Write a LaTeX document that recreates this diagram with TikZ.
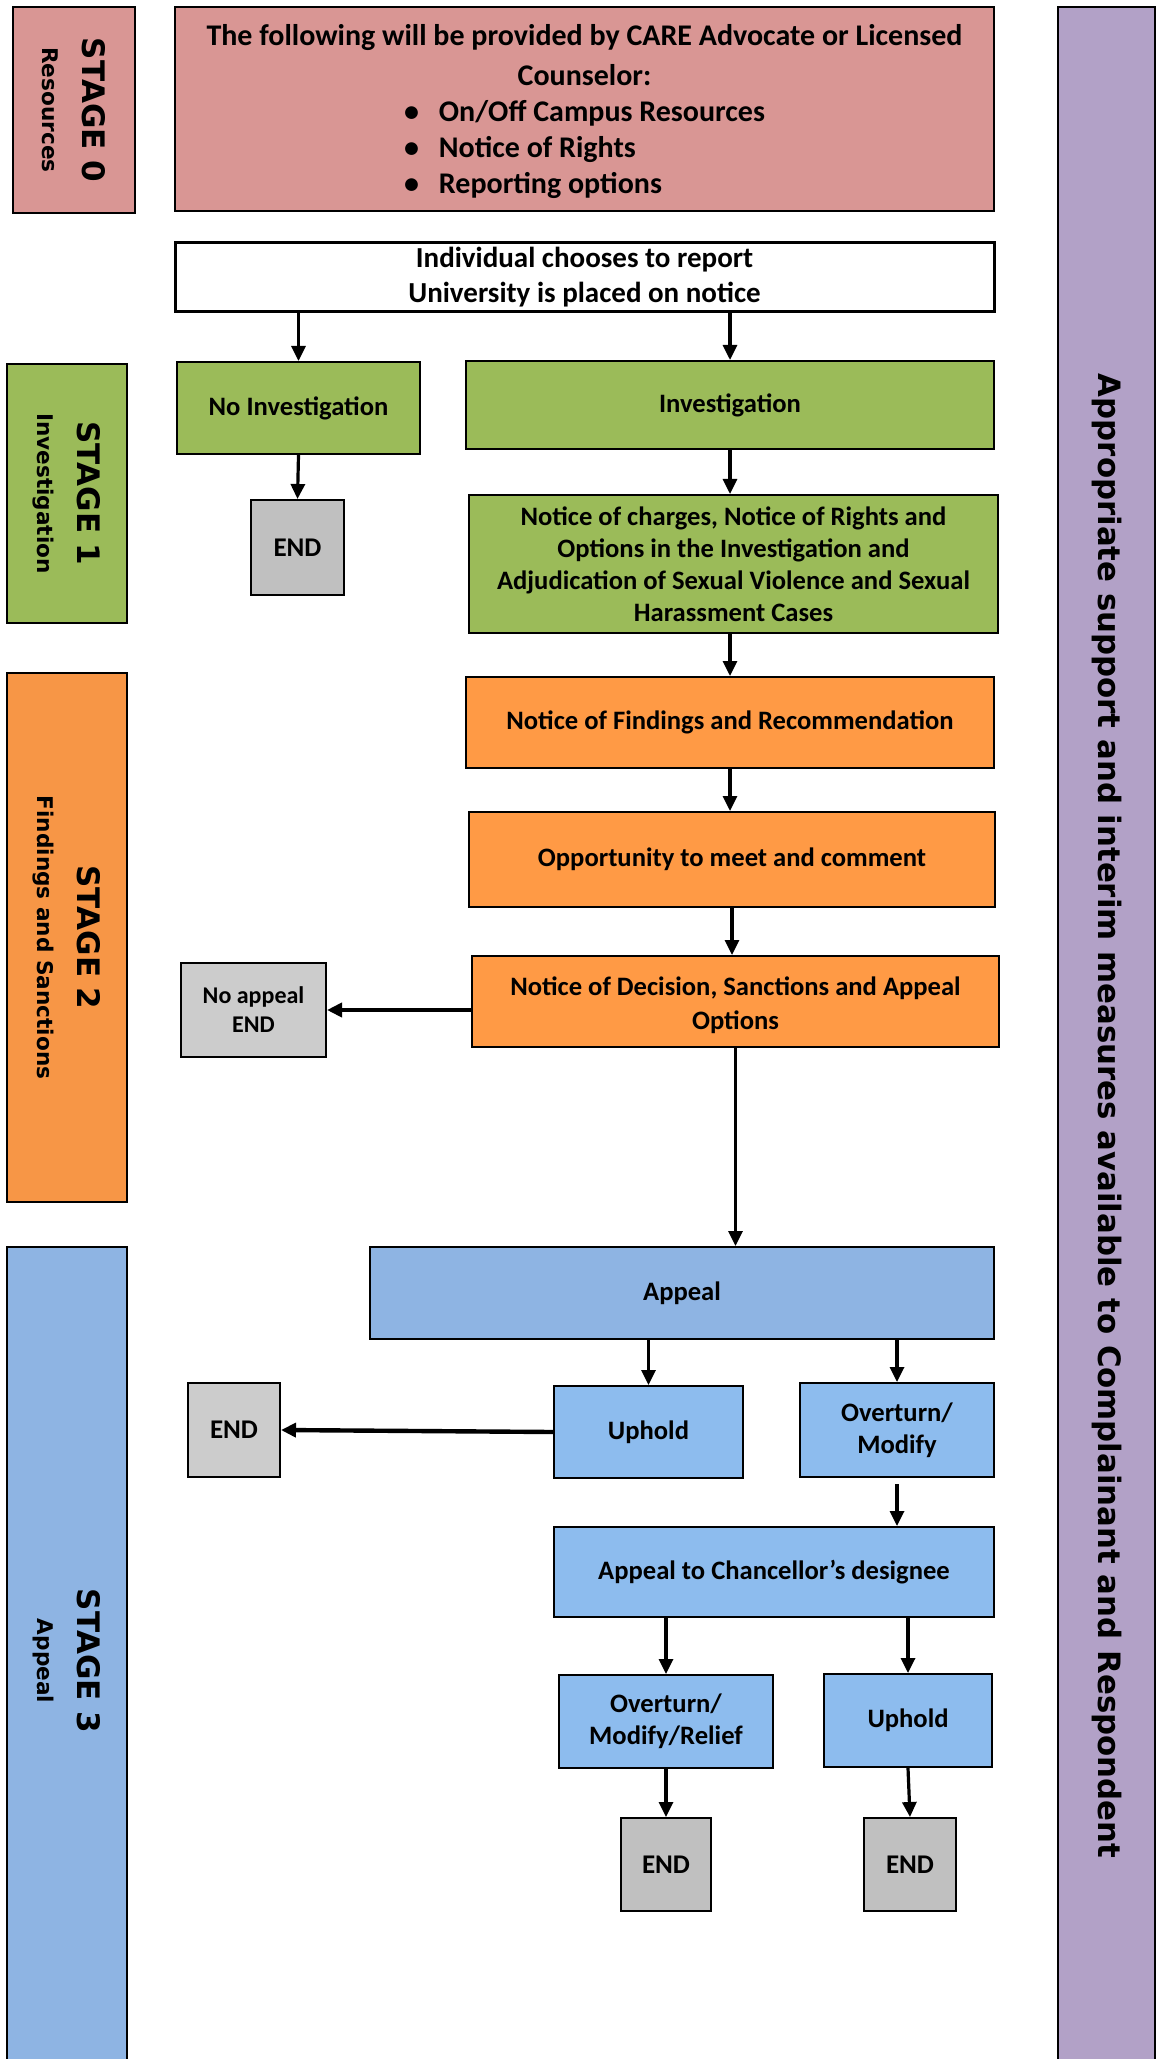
\documentclass[tikz,border=0pt]{standalone}
\usepackage{fontspec}
\setmainfont{Carlito}
\newfontfamily\stagefont{DejaVu Sans}
\usepackage{tikz}
\usetikzlibrary{arrows.meta}

\definecolor{respink}{HTML}{D99694}
\definecolor{invgreen}{HTML}{9BBB59}
\definecolor{stageorange}{HTML}{F79646}
\definecolor{boxorange}{HTML}{FF9A45}
\definecolor{stageblue}{HTML}{8EB4E3}
\definecolor{boxblue}{HTML}{8DBCEE}
\definecolor{endgray}{HTML}{CCCCCC}
\definecolor{darkendgray}{HTML}{C0C0C0}
\definecolor{supportpurple}{HTML}{B2A1C7}

\begin{document}
\begin{tikzpicture}[
			x=0.5pt, y=-0.5pt,
			>={Triangle[length=7.5pt,width=7pt]},
			flowbox/.style={rectangle, draw=black, line width=1pt, align=center, inner sep=2pt,
				font=\bfseries\fontsize{13.3}{16}\selectfont},
			endbox/.style={flowbox, fill=endgray, font=\bfseries\fontsize{13.5}{16}\selectfont},
			stagebox/.style={rectangle, draw=black, line width=1pt, align=center, rotate=-90,
				font=\stagefont\bfseries\fontsize{10.8}{20}\selectfont},
			link/.style={->, line width=1.6pt},
		]

			\useasboundingbox (0,0) rectangle (1159,2059);

			%Stage boxes
			\node[stagebox, fill=respink, minimum width=103pt, minimum height=61pt]		(stage0)	at (74,110)		{{\fontsize{15.5}{18}\selectfont STAGE 0}\\Resources};
			\node[stagebox, fill=invgreen, minimum width=129.5pt, minimum height=60pt]	(stage1)	at (67,493.5)	{{\fontsize{15.5}{18}\selectfont STAGE 1}\\Investigation};
			\node[stagebox, fill=stageorange, minimum width=264.5pt, minimum height=60pt]	(stage2)	at (67,937.5)	{{\fontsize{15.5}{18}\selectfont STAGE 2}\\Findings and Sanctions};
			\node[stagebox, fill=stageblue, minimum width=414pt, minimum height=60pt]	(stage3)	at (67,1661)	{{\fontsize{15.5}{18}\selectfont STAGE 3}\\Appeal};
			\node[stagebox, fill=supportpurple, minimum width=1109pt, minimum height=48.5pt, font=\stagefont\bfseries\fontsize{15.4}{18}\selectfont]	(support)	at (1106.5,1116)	{Appropriate support and interim measures available to Complainant and Respondent};

			%Nodes
			\node[flowbox, fill=respink, minimum width=409.5pt, minimum height=102pt, font=\bfseries\fontsize{15}{18}\selectfont]	(resources)	at (584.5,109)
				{\rule{0pt}{16pt}The following will be provided by CARE Advocate or Licensed\\[2pt]Counselor:\\[4.5pt]
				\begin{tabular}{@{}l@{\hspace{10pt}}l@{}}\textbullet & On/Off Campus Resources\\ \textbullet & Notice of Rights\\ \textbullet & Reporting options\end{tabular}};
			\node[flowbox, fill=white, minimum width=409.5pt, minimum height=34.5pt, inner ysep=0pt, line width=1.5pt, font=\bfseries\fontsize{14.5}{17.5}\selectfont]	(report)	at (584.5,277.5)	{Individual chooses to report\\University is placed on notice};
			\node[flowbox, fill=invgreen, minimum width=121.5pt, minimum height=46pt]	(noinv)		at (298.5,408)		{No Investigation};
			\node[flowbox, fill=invgreen, minimum width=264pt, minimum height=44pt]		(inv)		at (730,405)		{Investigation};
			\node[endbox, fill=darkendgray, minimum width=46.5pt, minimum height=47.5pt]	(end1)	at (297.5,547.5)	{END};
			\node[flowbox, fill=invgreen, minimum width=264.5pt, minimum height=69pt]	(charges)	at (733.5,564)
				{Notice of charges, Notice of Rights and\\Options in the Investigation and\\Adjudication of Sexual Violence and Sexual\\Harassment Cases};
			\node[flowbox, fill=boxorange, minimum width=264pt, minimum height=45.5pt]	(findings)	at (730,722.5)		{Notice of Findings and Recommendation};
			\node[flowbox, fill=boxorange, minimum width=263pt, minimum height=47.5pt]	(meet)		at (732,859.5)		{Opportunity to meet and comment};
			\node[flowbox, fill=boxorange, minimum width=263.5pt, minimum height=45.5pt, font=\bfseries\fontsize{13.3}{17}\selectfont]	(decision)	at (735.5,1001.5)	{\rule{0pt}{13pt}Notice of Decision, Sanctions and Appeal\\Options};
			\node[endbox, minimum width=72.5pt, minimum height=47pt, font=\bfseries\fontsize{12}{14.5}\selectfont]	(noappeal)	at (253.5,1010)		{No appeal\\END};
			\node[flowbox, fill=stageblue, minimum width=312pt, minimum height=46pt]	(appeal)	at (682,1293)		{Appeal};
			\node[flowbox, fill=boxblue, minimum width=94.5pt, minimum height=46pt]		(uphold)	at (648.5,1432)		{Uphold};
			\node[flowbox, fill=boxblue, minimum width=97pt, minimum height=47pt]		(overturn)	at (897,1430)		{Overturn/\\Modify};
			\node[endbox, minimum width=46pt, minimum height=47pt]	(end2)		at (234,1430)		{END};
			\node[flowbox, fill=boxblue, minimum width=220pt, minimum height=45pt]		(designee)	at (774,1572)		{Appeal to Chancellor’s designee};
			\node[flowbox, fill=boxblue, minimum width=107pt, minimum height=46.5pt]	(relief)	at (666,1721.5)		{Overturn/\\Modify/Relief};
			\node[flowbox, fill=boxblue, minimum width=84pt, minimum height=46.5pt]		(upholdfinal)	at (908,1720.5)	{Uphold};
			\node[endbox, fill=darkendgray, minimum width=45pt, minimum height=46.5pt]	(end3)		at (666,1864.5)		{END};
			\node[endbox, fill=darkendgray, minimum width=46pt, minimum height=46.5pt]	(end4)		at (910,1864.5)		{END};

			%Lines
			\draw[link]	(noinv.north |- report.south) -- (noinv.north);
			\draw[link]	(inv.north |- report.south) -- (inv.north);
			\draw[link]	(noinv.south) -- (end1.north);
			\draw[link]	(inv.south) -- (inv.south |- charges.north);
			\draw[link]	(findings.north |- charges.south) -- (findings.north);
			\draw[link]	(findings.south) -- (findings.south |- meet.north);
			\draw[link]	(meet.south) -- (meet.south |- decision.north);
			\draw[link, line width=2.2pt]	(decision.west |- noappeal.east) -- (noappeal.east);
			\draw[link]	(decision.south) -- (decision.south |- appeal.north);
			\draw[link]	(uphold.north |- appeal.south) -- (uphold.north);
			\draw[link]	(overturn.north |- appeal.south) -- (overturn.north);
			\draw[link, line width=2.2pt]	(uphold.west) -- (end2.east);
			\draw[link, shorten <=3pt]	(overturn.south) -- (overturn.south |- designee.north);
			\draw[link]	(relief.north |- designee.south) -- (relief.north);
			\draw[link]	(upholdfinal.north |- designee.south) -- (upholdfinal.north);
			\draw[link]	(relief.south) -- (end3.north);
			\draw[link]	(upholdfinal.south) -- (end4.north);

		\end{tikzpicture}
\end{document}
